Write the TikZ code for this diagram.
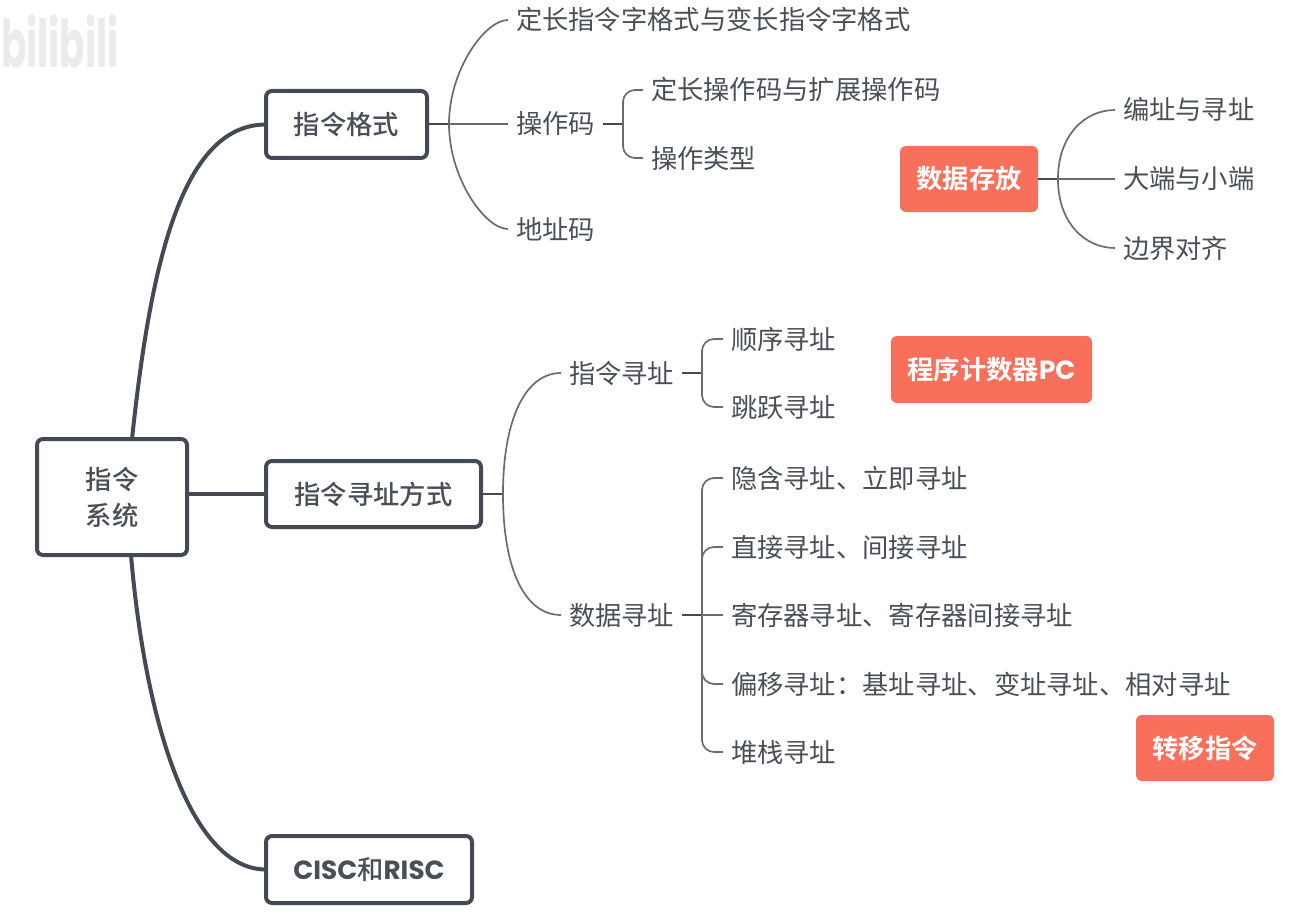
\documentclass[tikz,border=0pt]{standalone}
\usepackage{fontspec}
\usepackage{xcolor}
\usetikzlibrary{positioning}
\setmainfont{Noto Sans CJK SC}
\newfontfamily\boxfont{Noto Sans CJK SC Medium}
\newfontfamily\hotfont{Noto Sans CJK SC Bold}
\newfontfamily\latfont{Poppins}
\definecolor{inkdark}{HTML}{434A54}
\definecolor{inktext}{HTML}{4A4F57}
\definecolor{inkthin}{HTML}{6A6C70}
\definecolor{hotred}{HTML}{F86F5B}
\tikzset{
  topbox/.style={draw=inkdark,line width=4pt,rounded corners=6pt,fill=white,
    text=inktext,inner sep=0pt,outer sep=0pt,font=\boxfont\fontsize{26.3}{36}\selectfont},
  hotbox/.style={fill=hotred,rounded corners=6pt,text=white,inner sep=0pt,outer sep=0pt,
    text height=23pt,text depth=3pt,font=\hotfont\fontsize{26.3}{32}\selectfont},
  leaf/.style={text=inktext,inner ysep=0pt,inner xsep=8pt,outer sep=0pt,
    text height=23pt,text depth=3pt,font=\fontsize{26.3}{32}\selectfont},
  thick link/.style={draw=inkdark,line width=4pt},
  stub/.style={draw=inkdark,line width=2.4pt},
  thin link/.style={draw=inkthin,line width=1.7pt},
  bracket/.style={thin link,rounded corners=12pt}
}
\begin{document}
\begin{tikzpicture}[x=1pt,y=-1pt]
  \useasboundingbox (0,0) rectangle (1312,915);
  % faint mark in the corner
  \node[anchor=west,inner sep=0pt,text=black!8,xscale=.94,yscale=1.65,font=\latfont\bfseries\fontsize{40}{40}\selectfont] (wmark) at (1,41) {bilibili};
  % main boxes
  \node[topbox,minimum width=150pt,minimum height=116pt,align=center] (root) at (112,497) {指令\\系统};
  \node[topbox,minimum width=161pt,minimum height=67pt] (fmt)  at (346.5,124.5) {指令格式};
  \node[topbox,minimum width=215pt,minimum height=66pt] (addr) at (373.5,494)   {指令寻址方式};
  \node[topbox,minimum width=206pt,minimum height=67pt] (cisc) at (369,869.5)   {{\latfont\bfseries CISC}和{\latfont\bfseries RISC}};
  % side notes
  \node[hotbox,minimum width=138pt,minimum height=66pt] (store) at (969,179)    {数据存放};
  \node[hotbox,minimum width=201pt,minimum height=67pt] (pc)    at (991.5,369.5) {程序计数器{\latfont\bfseries PC}};
  \node[hotbox,minimum width=138pt,minimum height=66pt] (jump)  at (1205,748)   {转移指令};
  % instruction format
  \node[leaf,anchor=west] (fmtlen)  at (508,20)                         {定长指令字格式与变长指令字格式};
  \node[leaf] (opcode)  [below=104pt of fmtlen.west,anchor=west]        {操作码};
  \node[leaf] (addrcode) [below=105pt of opcode.west,anchor=west]       {地址码};
  \node[leaf,anchor=west] (oplen)   at (643,90)                         {定长操作码与扩展操作码};
  \node[leaf] (optype)  [below=68pt of oplen.west,anchor=west]          {操作类型};
  % data storage
  \node[leaf,anchor=west] (place)   at (1115,110)                       {编址与寻址};
  \node[leaf] (endian)  [below=69pt of place.west,anchor=west]          {大端与小端};
  \node[leaf] (align)   [below=69pt of endian.west,anchor=west]         {边界对齐};
  % addressing
  \node[leaf,anchor=west] (iaddr)   at (561,373)                        {指令寻址};
  \node[leaf] (daddr)   [below=242pt of iaddr.west,anchor=west]         {数据寻址};
  \node[leaf,anchor=west] (seq)     at (723,339)                        {顺序寻址};
  \node[leaf] (skip)    [below=68pt of seq.west,anchor=west]            {跳跃寻址};
  \node[leaf,anchor=west] (imm)     at (723,478)                        {隐含寻址、立即寻址};
  \node[leaf] (direct)  [below=69pt of imm.west,anchor=west]            {直接寻址、间接寻址};
  \node[leaf] (reg)     [below=68pt of direct.west,anchor=west]         {寄存器寻址、寄存器间接寻址};
  \node[leaf] (offset)  [below=69pt of reg.west,anchor=west]            {偏移寻址：基址寻址、变址寻址、相对寻址};
  \node[leaf] (stack)   [below=68pt of offset.west,anchor=west]         {堆栈寻址};
  % branching points
  \coordinate (fmtj)   at (449,124);
  \coordinate (opj)    at (623,124);
  \coordinate (storej) at (1058,179);
  \coordinate (addrj)  at (503,494);
  \coordinate (ij)     at (702,373);
  \coordinate (dj)     at (702,615);
  % first level
  \draw[thick link] ([xshift=20pt]root.north) .. controls (150,270) and (180,124.5) .. (fmt.west);
  \draw[thick link] (root.east |- addr.west) -- (addr.west);
  \draw[thick link] ([xshift=19pt]root.south) .. controls (145,720) and (190,869.5) .. (cisc.west);
  % second level
  \draw[stub] (fmt.east |- fmtj) -- (fmtj);
  \draw[thin link] (fmtj) .. controls (449,70) and (485,20) .. (fmtlen.west);
  \draw[thin link] (fmtj) -- (opcode.west);
  \draw[thin link] (fmtj) .. controls (449,178) and (485,229) .. (addrcode.west);
  \draw[stub] (opcode.east) -- (opj);
  \draw[bracket] (opj) |- (oplen.west);
  \draw[bracket] (opj) |- (optype.west);
  \draw[stub] (store.east) -- (storej);
  \draw[thin link] (storej) .. controls (1058,135) and (1085,110) .. (place.west);
  \draw[thin link] (storej) -- (endian.west);
  \draw[thin link] (storej) .. controls (1058,223) and (1085,248) .. (align.west);
  \draw[stub] (addr.east) -- (addrj);
  \draw[thin link] (addrj) .. controls (503,420) and (525,373) .. (iaddr.west);
  \draw[thin link] (addrj) .. controls (503,570) and (525,615) .. (daddr.west);
  \draw[stub] (iaddr.east) -- (ij);
  \draw[bracket] (ij) |- (seq.west);
  \draw[bracket] (ij) |- (skip.west);
  \draw[stub] (daddr.east) -- (dj);
  \draw[bracket] (dj) |- (imm.west);
  \draw[bracket] (dj) |- (direct.west);
  \draw[thin link] (dj) -- (reg.west);
  \draw[bracket] (dj) |- (offset.west);
  \draw[bracket] (dj) |- (stack.west);
\end{tikzpicture}
\end{document}
